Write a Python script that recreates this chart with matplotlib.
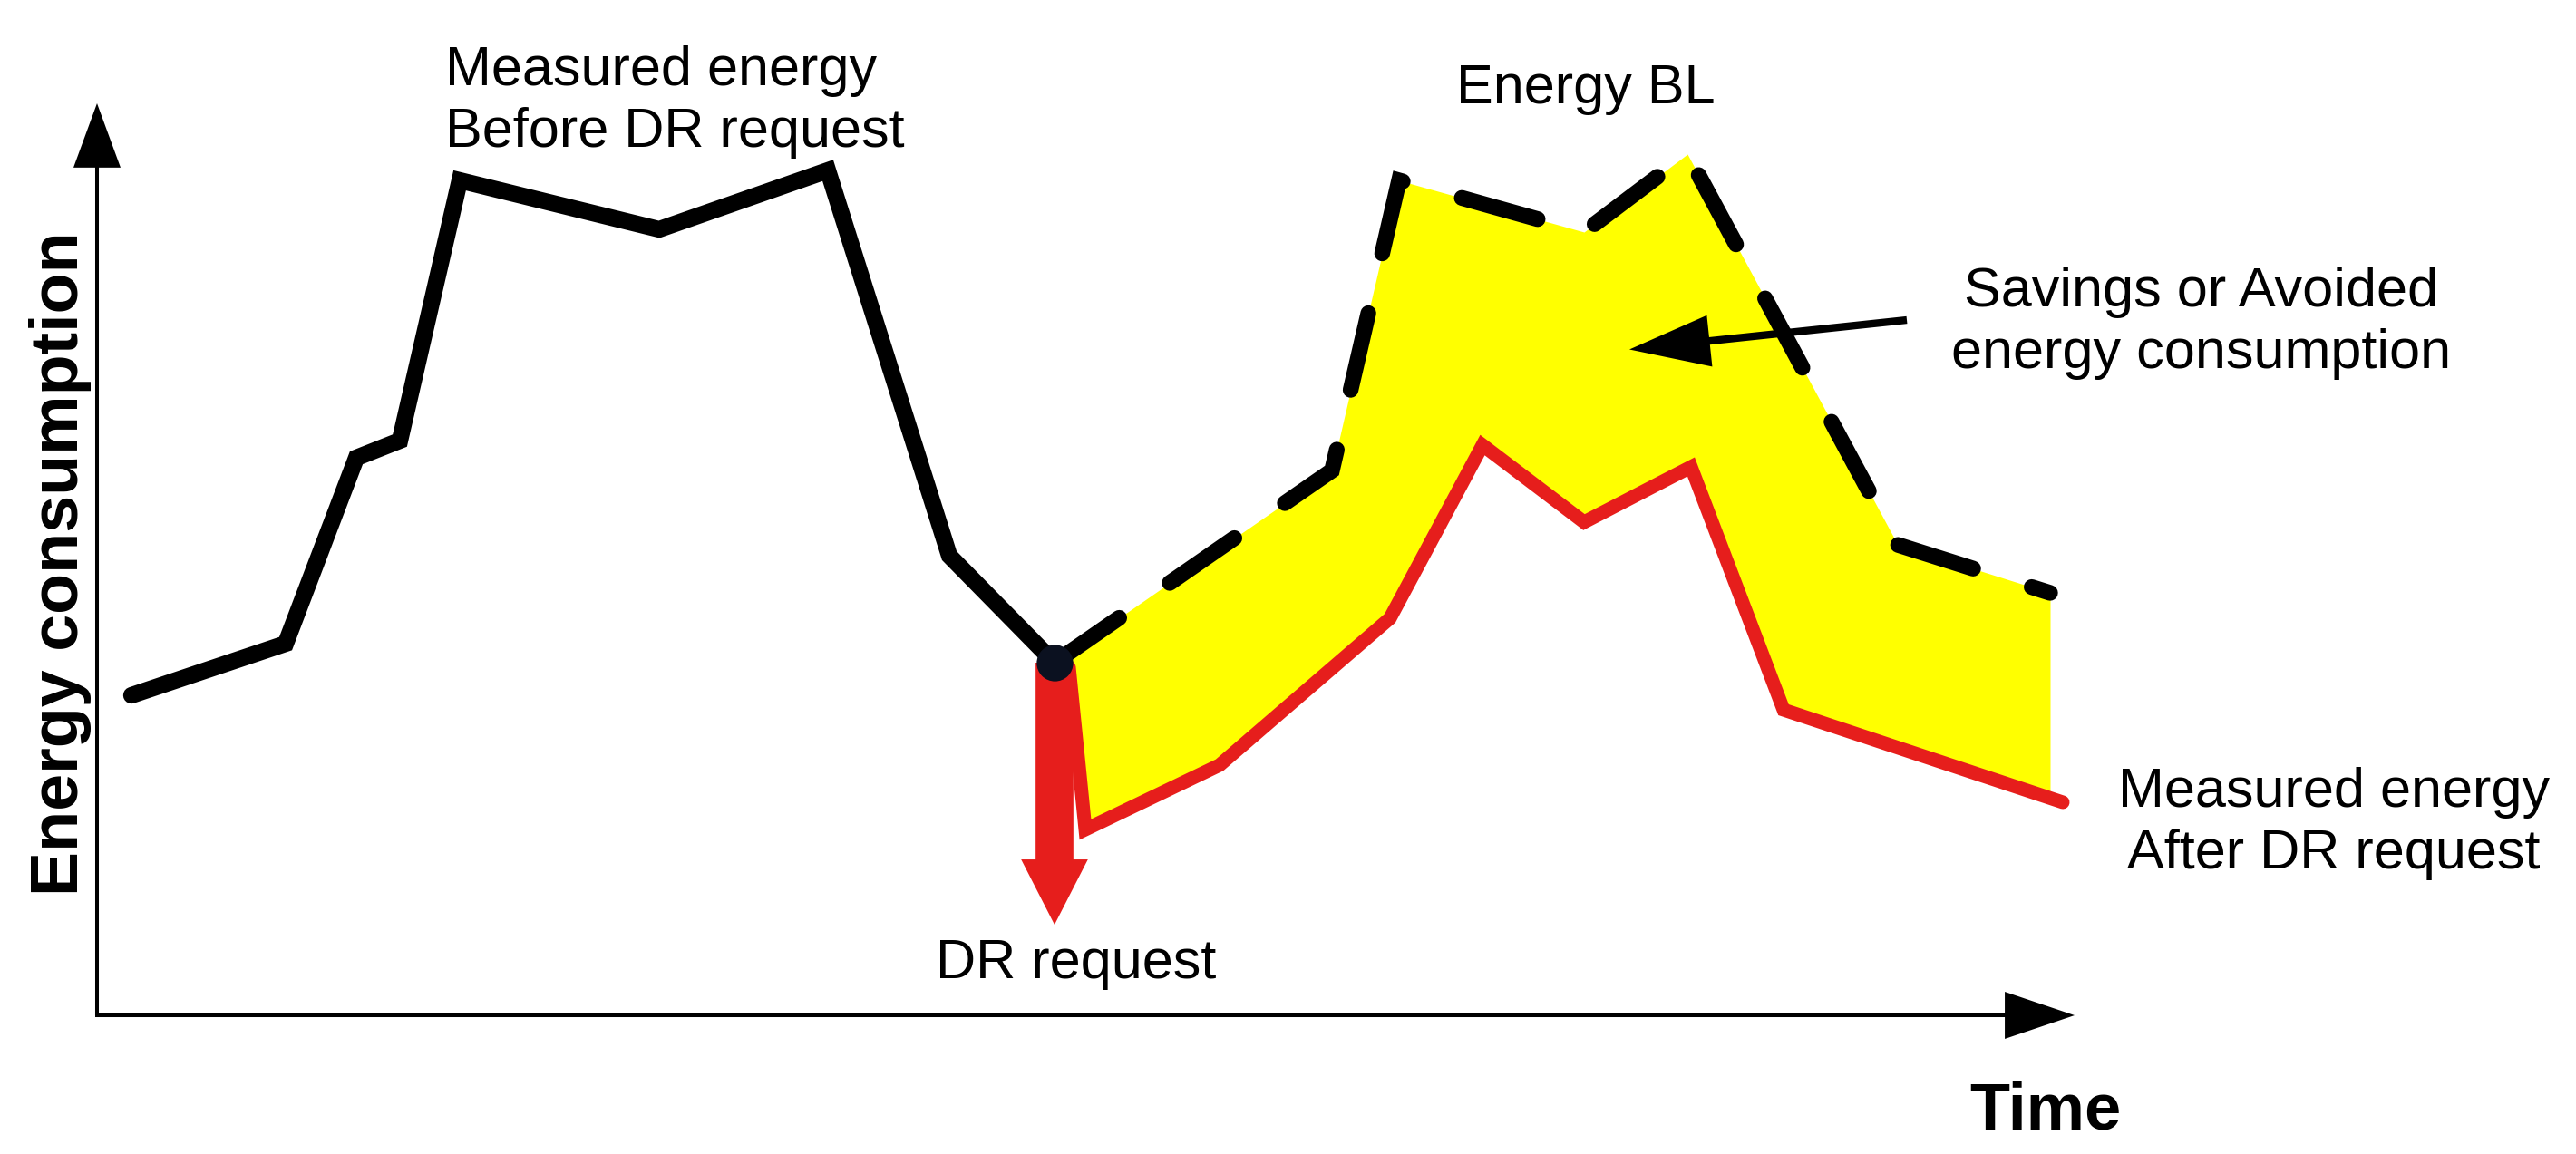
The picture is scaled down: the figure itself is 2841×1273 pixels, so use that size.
import numpy as np
import matplotlib
matplotlib.use('Agg')
import matplotlib.pyplot as plt

# ---- data (time in arbitrary units, energy in arbitrary units) ----
before_t = [1.9, 10.4, 14.3, 16.7, 20.0, 31.0, 40.3, 47.0, 52.8]
before_e = [35.3, 41.0, 61.5, 63.4, 92.1, 86.7, 93.2, 50.7, 38.9]

bl_t = [52.8, 68.1, 71.8, 82.0, 87.7, 99.3, 107.7]
bl_e = [38.9, 60.1, 92.1, 86.4, 95.0, 51.9, 46.6]

after_t = [53.6, 54.5, 61.9, 71.3, 76.4, 82.0, 87.9, 93.0, 108.4]
after_e = [38.4, 20.5, 27.6, 43.8, 62.9, 54.4, 60.5, 33.7, 23.5]

dr_t, dr_e = 52.8, 38.9
dr_arrow_end_e = 10.0
time_max = 109.05
energy_max = 100.6
savings_from = (99.8, 76.7)
savings_to = (84.5, 73.45)

plt.rcParams['font.family'] = ['Liberation Sans', 'DejaVu Sans']

W, H, DPI = 2841, 1273, 100
fig = plt.figure(figsize=(W / DPI, H / DPI), dpi=DPI)
ax = fig.add_axes([0, 0, 1, 1])
ax.set_xlim(-5.35, 136.7)
ax.set_ylim(-15.3, 112.0)
ax.axis('off')

RED = '#e61e1c'
YELLOW = '#ffff00'

# yellow savings area
grid = np.unique(np.concatenate([bl_t, after_t]))
grid = grid[(grid >= bl_t[0]) & (grid <= bl_t[-1])]
ax.fill_between(grid, np.interp(grid, after_t, after_e), np.interp(grid, bl_t, bl_e),
                color=YELLOW, lw=0, zorder=1)

# after DR (red)
ax.plot(after_t, after_e, color=RED, lw=10.8, solid_capstyle='round',
        solid_joinstyle='miter', zorder=2)
# baseline (dashed)
ax.plot(bl_t, bl_e, color='black', lw=12.5, dashes=(5.0, 3.9),
        dash_capstyle='round', dash_joinstyle='miter', zorder=3)
# before DR (black)
ax.plot(before_t, before_e, color='black', lw=13.2, solid_capstyle='round',
        solid_joinstyle='miter', zorder=3)

# axes arrows
ax.annotate('', xy=(0, energy_max), xytext=(0, 0),
            arrowprops=dict(arrowstyle='simple,head_length=51,head_width=37.4,tail_width=2.9',
                            mutation_scale=1, shrinkA=0, shrinkB=0, fc='black', ec='none', lw=0),
            zorder=4)
ax.annotate('', xy=(time_max, 0), xytext=(-0.1, 0),
            arrowprops=dict(arrowstyle='simple,head_length=55.4,head_width=37.4,tail_width=2.9',
                            mutation_scale=1, shrinkA=0, shrinkB=0, fc='black', ec='none', lw=0),
            zorder=4)

# DR request arrow
ax.annotate('', xy=(dr_t, dr_arrow_end_e), xytext=(dr_t, dr_e),
            arrowprops=dict(arrowstyle='simple,head_length=51.8,head_width=53,tail_width=30',
                            mutation_scale=1, shrinkA=0, shrinkB=0, fc=RED, ec='none', lw=0),
            zorder=4)
ax.plot([dr_t], [dr_e], marker='o', ms=29, color='#0b1120', mec='none', zorder=5)

# savings arrow
ax.annotate('', xy=savings_to, xytext=savings_from,
            arrowprops=dict(arrowstyle='simple,head_length=64,head_width=41,tail_width=6',
                            mutation_scale=1, shrinkA=0, shrinkB=0, fc='black', ec='none', lw=0),
            zorder=6)

# texts (va='baseline' aligns the last line's baseline)
FS = 44
ax.text(19.2, 95.8, 'Measured energy\nBefore DR request', fontsize=FS, ha='left',
        va='baseline', linespacing=1.25)
ax.text(74.95, 100.6, 'Energy BL', fontsize=FS, ha='left', va='baseline')
ax.text(116.05, 71.4, 'Savings or Avoided\nenergy consumption', fontsize=FS, ha='center',
        va='baseline', multialignment='center', linespacing=1.25)
ax.text(123.35, 16.2, 'Measured energy\nAfter DR request', fontsize=FS, ha='center',
        va='baseline', multialignment='center', linespacing=1.25)
ax.text(46.25, 4.05, 'DR request', fontsize=FS, ha='left', va='baseline')
ax.text(107.45, -12.5, 'Time', fontsize=52, fontweight='bold', ha='center', va='baseline')
ax.text(-2.0, 49.8, 'Energy consumption', fontsize=53, fontweight='bold', rotation=90,
        ha='center', va='center')

fig.savefig('out.png', dpi=DPI)
